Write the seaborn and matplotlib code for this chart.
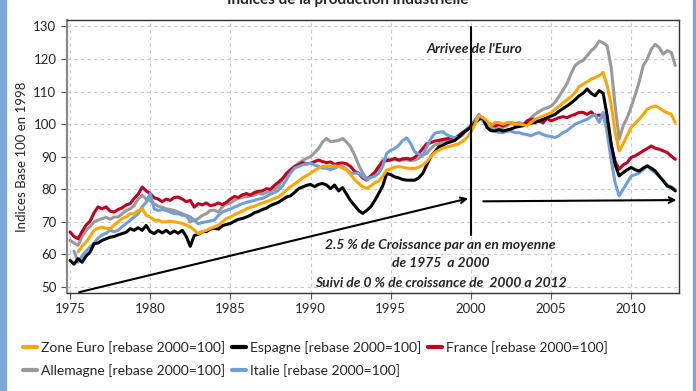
import numpy as np
import pandas as pd
import seaborn as sns
import matplotlib.pyplot as plt
from matplotlib.patches import Rectangle

# quarterly points, 1975 Q1 -> 2012 Q4
start_year = 1975
n_quarters = 152

zone_euro = [
    np.nan, np.nan, 60.7, 62.5,  63.8, 65.5, 67.4, 68.0,  68.4, 68.0, 67.9, 69.0,
    70.0, 71.0, 71.5, 72.5,  72.5, 73.5, 74.0, 72.0,  71.5, 70.5, 70.5, 70.0,
    70.0, 70.2, 70.0, 69.8,  69.5, 69.0, 68.4, 67.5,  66.4, 67.0, 67.4, 68.0,
    68.4, 69.0, 70.0, 71.0,  71.5, 72.2, 72.8, 73.3,  74.0, 74.5, 74.8, 75.3,
    75.8, 76.2, 76.6, 77.2,  77.7, 78.6, 79.8, 80.8,  81.6, 82.5, 83.5, 84.2,
    84.9, 85.8, 86.5, 87.0,  87.2, 87.0, 87.2, 87.0,  86.5, 86.0, 84.5, 83.0,
    81.8, 80.8, 80.3, 81.0,  82.0, 82.5, 84.0, 85.9,  86.3, 86.8, 87.0, 86.8,
    86.5, 86.4, 86.4, 86.8,  87.4, 88.5, 90.0, 91.3,  92.0, 92.6, 93.0, 93.3,
    93.6, 94.0, 94.8, 95.8,  97.5, 100.0, 102.5, 102.0,  101.0, 99.5, 100.5, 100.5,
    100.0, 100.5, 100.5, 100.0,  100.0, 99.8, 99.5, 100.5,  101.5, 102.0, 102.5, 103.0,
    103.5, 104.6, 105.5, 106.5,  107.5, 108.5, 109.7, 111.5,  112.3, 113.0, 113.8, 114.3,
    114.9, 115.9, 111.8, 106.0,  97.4, 91.8, 94.0, 96.5,  99.0, 100.3, 101.5, 103.0,
    104.6, 105.2, 105.6, 105.0,  104.1, 103.5, 103.0, 100.5,
]

espagne = [
    58.2, 57.0, 58.7, 57.6,  59.5, 60.7, 63.3, 63.5,  64.3, 64.8, 65.3, 65.5,
    66.0, 66.4, 66.8, 67.9,  67.4, 68.2, 67.4, 68.9,  67.0, 66.4, 67.4, 66.6,
    67.4, 66.4, 67.2, 66.5,  67.4, 65.5, 62.5, 65.8,  66.2, 67.0, 67.0, 67.8,
    68.0, 67.8, 68.8, 69.2,  69.5, 70.2, 70.8, 71.0,  71.5, 72.0, 72.8, 73.2,
    73.8, 74.2, 75.0, 75.5,  76.0, 76.8, 77.6, 78.0,  79.0, 80.2, 80.7, 81.2,
    81.5, 80.8, 81.5, 81.8,  81.3, 80.2, 81.3, 79.5,  80.5, 78.5, 76.5, 75.0,
    73.5, 72.6, 73.5, 74.6,  76.5, 78.7, 81.0, 84.9,  84.5, 83.8, 83.5, 83.0,
    82.8, 82.8, 82.8, 83.5,  84.9, 87.5, 90.0, 91.5,  93.0, 93.5, 94.2, 94.6,
    95.0, 96.0, 97.2, 98.2,  99.0, 100.5, 101.5, 102.0,  99.0, 98.0, 97.9, 98.3,
    97.9, 98.2, 98.5, 99.0,  99.3, 99.5, 100.0, 100.3,  100.5, 101.0, 101.5, 102.0,
    102.5, 103.0, 104.0, 104.8,  105.6, 106.5, 107.5, 108.7,  109.5, 110.8, 109.5, 108.7,
    110.3, 109.5, 102.6, 94.0,  87.5, 84.1, 85.1, 86.0,  86.7, 86.0, 85.6, 86.5,
    87.2, 86.5, 85.6, 84.0,  82.6, 81.0, 80.5, 79.5,
]

france = [
    66.9, 65.5, 64.8, 67.0,  69.0, 70.2, 72.8, 74.6,  74.0, 74.6, 73.3, 73.0,
    73.8, 74.3, 75.2, 75.6,  77.2, 78.5, 80.7, 79.5,  78.7, 77.4, 77.0, 76.2,
    77.0, 76.6, 77.5, 77.6,  77.0, 76.2, 76.6, 74.5,  75.6, 75.2, 75.8, 75.0,
    75.2, 75.8, 75.3, 76.0,  77.0, 77.8, 77.5, 78.3,  78.7, 78.2, 79.0, 79.4,
    79.5, 80.2, 80.0, 81.2,  82.2, 83.3, 84.9, 86.0,  87.0, 87.5, 88.2, 87.8,
    88.0, 88.5, 89.0, 88.5,  88.2, 88.4, 87.6, 88.0,  88.1, 87.8, 87.0, 85.5,
    84.9, 83.5, 82.8, 84.0,  85.2, 87.0, 88.5, 88.8,  89.0, 89.5, 89.0, 89.3,
    89.5, 89.2, 89.8, 91.0,  92.5, 94.0, 94.3, 94.8,  95.0, 95.3, 95.5, 95.8,
    95.6, 96.5, 97.5, 98.4,  99.5, 101.0, 102.6, 101.5,  100.5, 100.0, 99.5, 99.8,
    99.5, 100.0, 100.5, 100.0,  100.0, 99.6, 101.0, 101.5,  101.5, 101.0, 100.4, 101.8,
    101.0, 101.5, 102.0, 102.3,  102.0, 102.6, 103.0, 103.6,  103.6, 103.0, 103.8, 102.6,
    102.8, 102.5, 99.5, 93.5,  88.5, 86.2, 87.5, 88.2,  89.8, 90.3, 91.0, 91.8,
    92.5, 93.3, 92.6, 92.3,  91.8, 91.3, 90.2, 89.2,
]

allemagne = [
    64.3, 63.5, 62.8, 65.5,  67.4, 68.5, 70.0, 70.5,  71.0, 71.4, 70.8, 71.5,
    71.5, 72.5, 73.5, 74.0,  75.0, 77.0, 78.2, 77.0,  76.5, 75.6, 74.8, 74.5,
    74.0, 73.8, 73.5, 73.0,  72.5, 72.0, 70.0, 70.5,  71.0, 72.0, 72.5, 73.5,
    73.6, 73.0, 74.6, 75.5,  75.8, 76.6, 77.2, 77.6,  77.7, 78.0, 78.2, 78.7,
    78.5, 79.0, 79.5, 80.0,  81.0, 83.0, 84.5, 85.5,  87.0, 88.0, 88.8, 89.5,
    90.0, 91.2, 92.5, 94.5,  95.6, 94.6, 94.8, 95.0,  95.6, 94.5, 93.0, 90.5,
    87.5, 85.0, 83.3, 84.0,  84.9, 86.5, 89.0, 89.2,  89.0, 89.2, 88.8, 89.0,
    89.0, 88.8, 89.0, 89.5,  90.5, 91.0, 92.5, 93.6,  94.0, 94.5, 95.0, 95.3,
    95.6, 96.5, 97.5, 98.2,  99.0, 101.0, 103.0, 101.5,  100.0, 99.5, 99.0, 98.5,
    99.0, 99.5, 100.5, 100.0,  100.5, 100.0, 100.5, 102.0,  103.0, 103.8, 104.6, 105.0,
    105.5, 106.7, 108.5, 110.5,  112.5, 115.5, 118.0, 119.0,  119.5, 121.0, 122.5, 123.6,
    125.5, 125.0, 124.0, 117.5,  105.6, 95.4, 99.5, 102.0,  105.3, 109.0, 113.0, 118.0,
    120.0, 123.0, 124.5, 123.5,  121.5, 122.6, 122.0, 118.0,
]

italie = [
    np.nan, 61.0, 57.6, 59.5,  61.0, 62.3, 63.5, 65.0,  66.0, 66.5, 67.4, 67.0,
    67.4, 68.5, 69.5, 70.5,  71.5, 72.5, 74.6, 76.0,  78.7, 74.0, 73.5, 73.8,
    73.5, 73.0, 72.5, 72.5,  72.0, 72.0, 71.5, 70.5,  69.4, 69.8, 70.0, 70.3,
    70.5, 72.0, 73.0, 73.5,  74.0, 74.5, 75.0, 75.6,  76.0, 76.3, 76.6, 77.0,
    77.2, 77.8, 78.5, 79.0,  79.7, 81.0, 83.0, 85.0,  86.5, 87.0, 87.5, 87.8,
    88.0, 87.5, 87.0, 86.5,  86.5, 86.0, 86.5, 87.0,  87.0, 86.0, 85.0, 84.9,
    85.0, 84.0, 83.0, 83.6,  84.0, 84.9, 87.0, 91.0,  92.0, 92.5, 93.5, 95.0,
    95.8, 94.0, 91.5, 90.8,  90.5, 93.0, 95.5, 97.2,  97.5, 97.7, 96.7, 96.2,
    95.8, 96.0, 96.7, 98.5,  99.0, 101.0, 102.6, 101.0,  99.5, 98.5, 98.0, 97.4,
    97.4, 97.8, 97.9, 97.4,  97.4, 97.0, 96.8, 96.4,  97.0, 97.4, 96.8, 96.4,
    96.2, 95.9, 96.5, 97.4,  98.0, 99.0, 100.0, 100.5,  101.0, 101.5, 102.3, 103.0,
    100.5, 103.6, 97.4, 89.0,  82.0, 78.0, 80.0, 82.0,  84.1, 84.5, 85.0, 86.0,
    87.2, 86.0, 85.1, 84.1,  82.6, 81.3, 80.8, 80.0,
]

series_names = ["Allemagne", "France", "Italie", "Espagne", "Zone Euro"]
series_values = [allemagne, france, italie, espagne, zone_euro]
colors = {
    "Zone Euro": "#ffa500",
    "Espagne": "#000000",
    "France": "#c0001e",
    "Allemagne": "#9a9a9a",
    "Italie": "#6f9fd8",
}
legend_order = ["Zone Euro", "Allemagne", "Espagne", "Italie", "France"]

years = start_year + np.arange(n_quarters) / 4.0
frames = []
for name, vals in zip(series_names, series_values):
    frames.append(pd.DataFrame({"annee": years, "indice": vals, "serie": name}))
df = pd.concat(frames, ignore_index=True).dropna()

sns.set_style("white")
plt.rcParams["font.family"] = ["Lato", "DejaVu Sans"]

fig = plt.figure(figsize=(6.96, 3.91), dpi=100)
ax = fig.add_axes([0.096, 0.251, 0.88, 0.698])

sns.lineplot(data=df, x="annee", y="indice", hue="serie", hue_order=series_names,
             palette=colors, linewidth=2.2, estimator=None, sort=True, ax=ax)

ax.set_xlim(1974.8, 2013.0)
ax.set_ylim(48.2, 132)
ax.set_xticks(range(1975, 2011, 5))
ax.set_yticks(range(50, 131, 10))
ax.grid(True, color="#c8c8c8", linestyle=(0, (3, 3)), linewidth=0.8)
ax.set_axisbelow(True)
for sp in ax.spines.values():
    sp.set_color("#333333")
    sp.set_linewidth(1.0)
ax.spines["left"].set_color("#888888")
ax.spines["left"].set_linewidth(1.6)
ax.tick_params(axis="both", labelsize=9.5, length=4, color="#555555", direction="out",
               bottom=True, left=True)
ax.set_xlabel("")
ax.set_ylabel("Indices Base 100 en 1998", fontsize=9.5)

# annotations
note = dict(ha="center", va="center", fontsize=10, style="italic", fontweight="bold")
ax.plot([2000, 2000], [66, 129.8], color="black", linewidth=1.5)
ax.text(2000.25, 123, "Arrivee de l'Euro", **note)
ax.annotate("", xy=(2000, 77.4), xytext=(1975.4, 48.2),
            arrowprops=dict(arrowstyle="->", color="black", lw=1.5), annotation_clip=False)
ax.annotate("", xy=(2013.0, 76.7), xytext=(2000.6, 76.3),
            arrowprops=dict(arrowstyle="->", color="black", lw=1.5), annotation_clip=False)
ax.text(1998.1, 63, "2.5 % de Croissance par an en moyenne", **note)
ax.text(1998.1, 57.4, "de 1975  a 2000", **note)
ax.text(1998.1, 51.2, "Suivi de 0 % de croissance de  2000 a 2012", **note)

# legend
handles, labels = ax.get_legend_handles_labels()
hmap = dict(zip(labels, handles))
ax.get_legend().remove()
leg = fig.legend([hmap[n] for n in legend_order],
                 [f"{n} [rebase 2000=100]" for n in legend_order],
                 ncol=3, loc="upper left", bbox_to_anchor=(0.025, 0.142),
                 frameon=False, fontsize=10, handlelength=1.0, handletextpad=0.3,
                 columnspacing=0.5, labelspacing=0.72, borderaxespad=0)
for line in leg.get_lines():
    line.set_linewidth(3)

fig.text(0.5, 1.0, "Indices de la production industrielle", ha="center", va="center",
         fontsize=11, fontweight="bold")

# blue side bands
fig.patches.append(Rectangle((0, 0), 6 / 696, 1, transform=fig.transFigure,
                             color="#7ba7d8", zorder=0))
fig.patches.append(Rectangle((693 / 696, 0), 3 / 696, 1, transform=fig.transFigure,
                             color="#7ba7d8", zorder=0))

fig.savefig("out.png", dpi=100)
